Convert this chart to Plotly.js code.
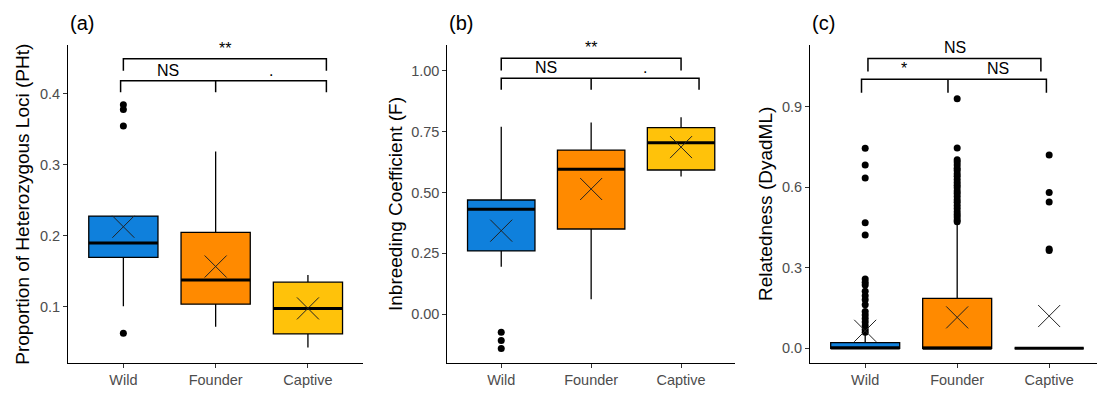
<!DOCTYPE html>
<html>
<head>
<meta charset="utf-8">
<script src="https://cdn.plot.ly/plotly-3.0.1.min.js"></script>
<style>html,body{margin:0;padding:0;background:#fff;}#chart{width:1097px;height:393px;}</style>
</head>
<body>
<div id="chart"></div>
<script>
// ---------- data ----------
const groups = ["Wild", "Founder", "Captive"];
const colors = ["#0F80DC", "#FF8A00", "#FFC20A"];

// Panel (a) Proportion of heterozygous loci
const a_q1 = [0.170, 0.104, 0.062];
const a_med = [0.190, 0.138, 0.098];
const a_q3 = [0.228, 0.205, 0.135];
const a_lo = [0.101, 0.072, 0.043];
const a_hi = [0.228, 0.319, 0.145];
const a_mean = [0.213, 0.157, 0.098];
const a_outWild = [0.385, 0.378, 0.355, 0.063];
const a_outFounder = [];
const a_outCaptive = [];

// Panel (b) Inbreeding coefficient
const b_q1 = [0.260, 0.350, 0.592];
const b_med = [0.431, 0.595, 0.704];
const b_q3 = [0.469, 0.674, 0.766];
const b_lo = [0.195, 0.062, 0.565];
const b_hi = [0.770, 0.787, 0.809];
const b_mean = [0.343, 0.514, 0.686];
const b_outWild = [-0.074, -0.108, -0.141];
const b_outFounder = [];
const b_outCaptive = [];

// Panel (c) Relatedness
const c_q1 = [0.000, 0.000, 0.000];
const c_med = [0.001, 0.000, 0.000];
const c_q3 = [0.021, 0.186, 0.000];
const c_lo = [0.000, 0.000, 0.000];
const c_hi = [0.050, 0.468, 0.000];
const c_mean = [0.065, 0.115, 0.120];
const c_outWild = [0.745, 0.683, 0.634, 0.468, 0.422, 0.258, 0.246, 0.236, 0.212, 0.196, 0.181, 0.162, 0.137, 0.124, 0.111, 0.098, 0.084, 0.070, 0.060];
const c_outFounder = [0.930, 0.746, 0.702, 0.694, 0.683, 0.671, 0.662, 0.650, 0.641, 0.629, 0.618, 0.607, 0.598, 0.586, 0.577, 0.565, 0.553, 0.544, 0.532, 0.521, 0.509, 0.498, 0.489, 0.478, 0.471];
const c_outCaptive = [0.720, 0.580, 0.545, 0.370, 0.364];

const sigLabels = {
  a: ["**", "NS", "."],
  b: ["**", "NS", "."],
  c: ["NS", "*", "NS"]
};

// ---------- build ----------
const FONT = "Liberation Sans, Arial, sans-serif";
const BOXW = 0.75;
const traces = [];

function panel(ax, q1, med, q3, lo, hi, mean, outs) {
  const xa = "x" + ax, ya = "y" + ax;
  groups.forEach((g, i) => {
    traces.push({
      type: "box", xaxis: xa, yaxis: ya, x: [i],
      q1: [q1[i]], median: [med[i]], q3: [q3[i]],
      lowerfence: [lo[i]], upperfence: [hi[i]],
      width: BOXW, whiskerwidth: 0, boxpoints: false,
      fillcolor: colors[i], line: {color: "#000", width: 1.3},
      showlegend: false, hoverinfo: "skip"
    });
  });
  // thick median lines
  const mx = [], my = [];
  groups.forEach((g, i) => {
    mx.push(i - BOXW / 2, i + BOXW / 2, null);
    my.push(med[i], med[i], null);
  });
  traces.push({type: "scatter", mode: "lines", xaxis: xa, yaxis: ya, x: mx, y: my,
    line: {color: "#000", width: 3}, showlegend: false, hoverinfo: "skip"});
  // outliers
  const ox = [], oy = [];
  outs.forEach((arr, i) => arr.forEach(v => { ox.push(i); oy.push(v); }));
  traces.push({type: "scatter", mode: "markers", xaxis: xa, yaxis: ya, x: ox, y: oy,
    marker: {color: "#000", size: 7}, showlegend: false, hoverinfo: "skip"});
  // means
  traces.push({type: "scatter", mode: "markers", xaxis: xa, yaxis: ya, x: [0, 1, 2], y: mean,
    marker: {symbol: "x-thin", size: 22, color: "#222", line: {color: "#222", width: 1}},
    showlegend: false, hoverinfo: "skip"});
}

panel("", a_q1, a_med, a_q3, a_lo, a_hi, a_mean, [a_outWild, a_outFounder, a_outCaptive]);
panel("2", b_q1, b_med, b_q3, b_lo, b_hi, b_mean, [b_outWild, b_outFounder, b_outCaptive]);
panel("3", c_q1, c_med, c_q3, c_lo, c_hi, c_mean, [c_outWild, c_outFounder, c_outCaptive]);

const yDom = [1 - 363 / 393, 1 - 45 / 393];
function xaxisDef(dom, range) {
  return {domain: dom, range: range, tickvals: [0, 1, 2], ticktext: groups,
    showgrid: false, zeroline: false, showline: true, linecolor: "#000", linewidth: 1,
    ticks: "outside", ticklen: 4, tickcolor: "#333", tickwidth: 1,
    tickfont: {family: FONT, size: 14.5, color: "#4D4D4D"}, fixedrange: true};
}
function yaxisDef(anchor, range, tv, fmt) {
  return {domain: yDom, anchor: anchor, range: range, tickvals: tv, tickformat: fmt,
    showgrid: false, zeroline: false, showline: true, linecolor: "#000", linewidth: 1,
    ticks: "outside", ticklen: 4, tickcolor: "#333", tickwidth: 1,
    tickfont: {family: FONT, size: 14.5, color: "#4D4D4D"}, fixedrange: true};
}

const shapes = [];
const annotations = [];
function bracket(xr, yr, x0, x1, yTop, yEnd, mid) {
  const ln = {color: "#000", width: 1.5};
  let path = `M ${x0} ${yEnd} L ${x0} ${yTop} L ${x1} ${yTop} L ${x1} ${yEnd}`;
  if (mid !== undefined) path += ` M ${mid} ${yTop} L ${mid} ${yEnd}`;
  shapes.push({type: "path", xref: xr, yref: yr, path: path, line: ln});
}
function sig(xr, yr, x, y, text) {
  annotations.push({xref: xr, yref: yr, x: x, y: y, text: text, showarrow: false,
    yanchor: "bottom", xanchor: "center", font: {family: FONT, size: 16, color: "#000"}});
}
// panel a
bracket("x", "y", 0.0, 2.2, 0.4496, 0.4328);
bracket("x", "y", -0.03, 2.2, 0.4187, 0.4024, 1.0);
sig("x", "y", 1.1, 0.4496, sigLabels.a[0]);
sig("x", "y", 0.48, 0.4187, sigLabels.a[1]);
sig("x", "y", 1.6, 0.4187, sigLabels.a[2]);
// panel b
bracket("x2", "y2", 0.0, 2.0, 1.051, 1.0);
bracket("x2", "y2", 0.0, 2.2, 0.969, 0.921, 1.0);
sig("x2", "y2", 1.0, 1.051, sigLabels.b[0]);
sig("x2", "y2", 0.5, 0.969, sigLabels.b[1]);
sig("x2", "y2", 1.6, 0.969, sigLabels.b[2]);
// panel c
bracket("x3", "y3", 0.03, 1.91, 1.080, 1.031);
bracket("x3", "y3", -0.04, 1.97, 1.002, 0.952, 0.9);
sig("x3", "y3", 0.976, 1.080, sigLabels.c[0]);
sig("x3", "y3", 0.42, 1.002, sigLabels.c[1]);
sig("x3", "y3", 1.44, 1.002, sigLabels.c[2]);

// axis titles and panel labels
const titles = [
  {x: 21.7, text: "Proportion of Heterozygous Loci (PHt)"},
  {x: 395, text: "Inbreeding Coefficient (F)"},
  {x: 765, text: "Relatedness (DyadML)"}
];
titles.forEach(t => annotations.push({xref: "paper", yref: "paper", x: t.x / 1097, y: 1 - 204 / 393,
  text: t.text, textangle: -90, showarrow: false, xanchor: "center", yanchor: "middle",
  font: {family: FONT, size: 19, color: "#000"}}));
const plabels = [{x: 68, t: "(a)"}, {x: 447, t: "(b)"}, {x: 810, t: "(c)"}];
plabels.forEach(p => annotations.push({xref: "paper", yref: "paper", x: p.x / 1097, y: 1 - 23 / 393,
  text: p.t, showarrow: false, xanchor: "left", yanchor: "middle",
  font: {family: FONT, size: 20, color: "#000"}}));

const layout = {
  width: 1097, height: 393,
  margin: {l: 0, r: 0, t: 0, b: 0},
  paper_bgcolor: "#fff", plot_bgcolor: "#fff",
  boxmode: "overlay", showlegend: false,
  xaxis: Object.assign(xaxisDef([68 / 1097, 363.3 / 1097], [-0.6, 2.6]), {anchor: "y"}),
  yaxis: yaxisDef("x", [0.0211, 0.469], [0.1, 0.2, 0.3, 0.4], ".1f"),
  xaxis2: Object.assign(xaxisDef([447.3 / 1097, 735 / 1097], [-0.6, 2.6]), {anchor: "y2"}),
  yaxis2: yaxisDef("x2", [-0.2, 1.105], [0, 0.25, 0.5, 0.75, 1.0], ".2f"),
  xaxis3: Object.assign(xaxisDef([810 / 1097, 1], [-0.6, 2.52]), {anchor: "y3"}),
  yaxis3: yaxisDef("x3", [-0.055, 1.13], [0, 0.3, 0.6, 0.9], ".1f"),
  shapes: shapes, annotations: annotations
};

Plotly.newPlot("chart", traces, layout, {staticPlot: true, displayModeBar: false});
</script>
</body>
</html>
